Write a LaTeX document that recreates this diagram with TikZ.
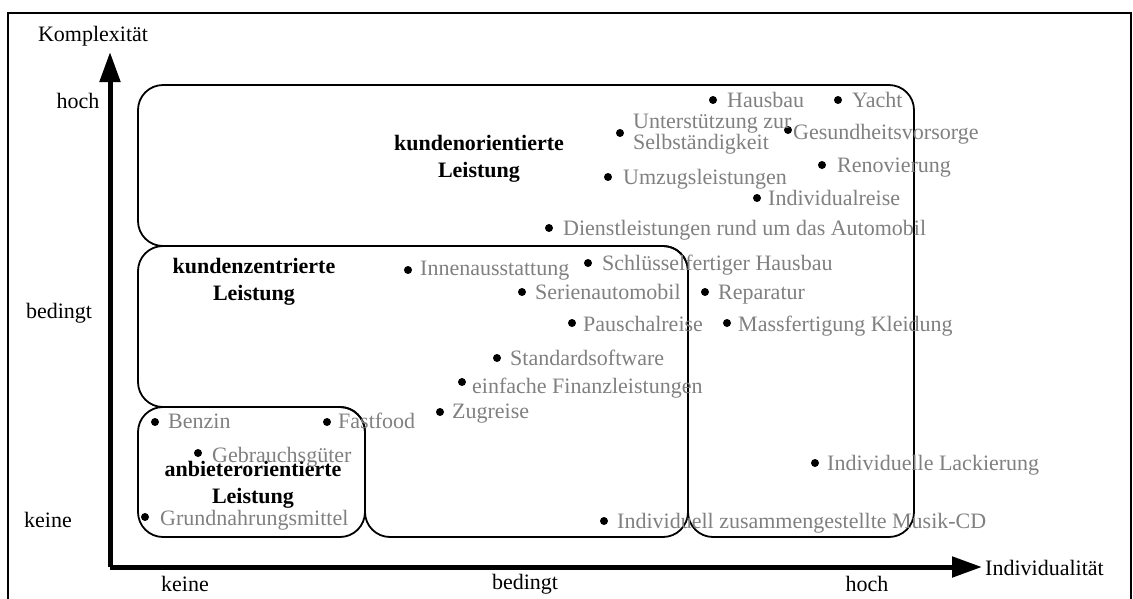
\documentclass[tikz,border=0pt]{standalone}
\usepackage{fontspec}
\setmainfont{Liberation Serif}
\usetikzlibrary{arrows.meta}
\definecolor{itemgray}{RGB}{128,128,128}
\tikzset{
  axis/.style={line width=5pt, -{Triangle[length=30pt,width=20pt]}},
  region/.style={line width=1.8pt, rounded corners=25pt},
  lbl/.style={inner sep=0pt, font=\fontsize{22}{26}\selectfont},
  item/.style={lbl, text=itemgray, anchor=west, text height=15pt, text depth=5pt},
  dot/.style={circle, fill=black, inner sep=0pt, minimum size=8pt},
  title/.style={lbl, font=\fontsize{22}{27}\selectfont\bfseries, align=center},
}
\begin{document}
\begin{tikzpicture}[x=1pt, y=-1pt]
\useasboundingbox (0,0) rectangle (1133,598);

% outer frame
\draw[line width=2pt] (8,600) -- (8,13) -- (1131,13) -- (1131,600);

% axes
\coordinate (origin) at (110,567);
\coordinate (ytip) at (110,52);
\coordinate (xtip) at (982,567);
\draw[axis] (origin) -- (ytip);
\draw[axis] (origin) -- (xtip);

\node[lbl] (ylabel) at (93,36) {Komplexität};
\node[lbl, anchor=west] (xlabel) at (985,568) {Individualität};
\node[lbl] (yhoch) at (78,101) {hoch};
\node[lbl] (ybed) at (59,313) {bedingt};
\node[lbl] (ykeine) at (48,520) {keine};
\node[lbl] (xkeine) at (185,584) {keine};
\node[lbl] (xbed) at (525,584) {bedingt};
\node[lbl] (xhoch) at (867,584) {hoch};

% service regions
\draw[region] (138,246) -- (138,85) -- (914,85) -- (914,537) -- (688,537) -- (688,246) -- cycle;
\draw[region] (138,407) -- (138,246) -- (688,246) -- (688,537) -- (365,537) -- (365,407) -- cycle;
\draw[region] (138,407) rectangle (365,537);

\node[title] (kor) at (479,159) {kundenorientierte\\Leistung};
\node[title] (kze) at (254,282) {kundenzentrierte\\Leistung};
\node[title] (anb) at (253,485) {anbieterorientierte\\Leistung};

% examples
\foreach \i/\dx/\dy/\tx/\ty/\t in {
  1/713/100/727/102/Hausbau,
  2/838/100/852/102/Yacht,
  4/788/130/793/134/Gesundheitsvorsorge,
  5/822/165/837/167/Renovierung,
  6/608/177/623/179/Umzugsleistungen,
  7/757/198/768/200/Individualreise,
  8/549/228/563/230/Dienstleistungen rund um das Automobil,
  9/408/270/420/270/Innenausstattung,
  10/588/263/602/265/Schlüsselfertiger Hausbau,
  11/522/292/535/294/Serienautomobil,
  12/705/292/718/294/Reparatur,
  13/572/323/583/326/Pauschalreise,
  14/727/323/738/326/Massfertigung Kleidung,
  15/497/358/510/360/Standardsoftware,
  16/462/382/472/388/einfache Finanzleistungen,
  17/440/412/452/413/Zugreise,
  18/155/422/168/423/Benzin,
  19/327/422/338/423/Fastfood,
  20/198/453/212/457/Gebrauchsgüter,
  21/145/517/160/520/Grundnahrungsmittel,
  22/815/463/827/465/Individuelle Lackierung,
  23/604/521/617/523/Individuell zusammengestellte Musik-CD}
{
  \node[dot] (d\i) at (\dx,\dy) {};
  \node[item] (t\i) at (\tx,\ty) {\t};
}
\node[dot] (d3) at (620,133) {};
\node[lbl, text=itemgray, anchor=west, align=left, font=\fontsize{22}{21}\selectfont] (t3) at (633,134) {Unterstützung zur\\Selbständigkeit};
\end{tikzpicture}
\end{document}
